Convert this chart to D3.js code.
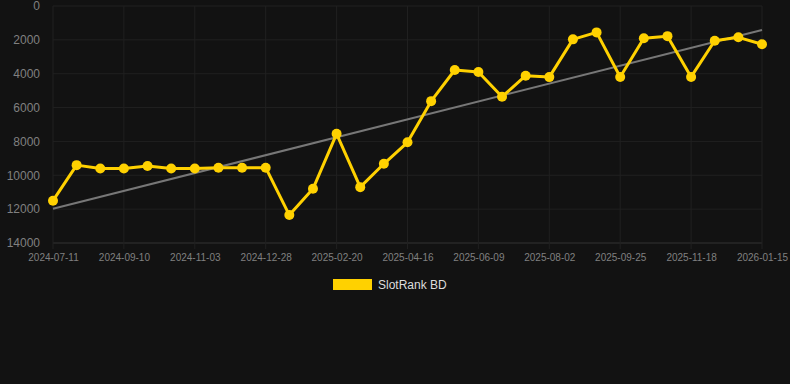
<!DOCTYPE html>
<html lang="en">
<head>
	<meta charset="UTF-8">
	<title>SlotRank BD</title>
	<script src="https://cdn.jsdelivr.net/npm/d3@7"></script>
	<style>
		body{
			margin: 0px;
			background: #121212;
		}
		svg{
			display: block;
			font-family: "Liberation Sans", Arial, sans-serif;
		}
	</style>
</head>
<body>
	<svg></svg>
	<script>
		// categories (dates), every 3rd one is labelled on the axis
		var dates = [
			"2024-07-11", "2024-07-31", "2024-08-21", "2024-09-10", "2024-09-28", "2024-10-16",
			"2024-11-03", "2024-11-21", "2024-12-10", "2024-12-28", "2025-01-16", "2025-02-02",
			"2025-02-20", "2025-03-10", "2025-03-29", "2025-04-16", "2025-05-04", "2025-05-22",
			"2025-06-09", "2025-06-27", "2025-07-15", "2025-08-02", "2025-08-20", "2025-09-07",
			"2025-09-25", "2025-10-13", "2025-10-31", "2025-11-18", "2025-12-07", "2025-12-27",
			"2026-01-15"
		];
		var ranks = [
			11500, 9400, 9600, 9600, 9450, 9600,
			9600, 9550, 9550, 9550, 12350, 10800,
			7550, 10700, 9320, 8050, 5620, 3780,
			3900, 5360, 4120, 4200, 1970, 1560,
			4190, 1910, 1780, 4190, 2050, 1850,
			2260
		];
		// trend line values at first and last date
		var trend = [11980, 1420];
		var yTicks = [0, 2000, 4000, 6000, 8000, 10000, 12000, 14000];
		var seriesName = "SlotRank BD";

		var w = 790, h = 384,
			m = {top: 6, right: 28, bottom: 141, left: 53},
			svg = d3.select("svg").attr("width", w).attr("height", h);

		svg.append("rect").attr("width", w).attr("height", h).attr("fill", "#121212");

		var x = d3.scalePoint().domain(dates).range([m.left, w - m.right]);
		var y = d3.scaleLinear().domain([0, 14000]).range([m.top, h - m.bottom]);
		var labelled = dates.filter((d, i) => i % 3 === 0);

		// grid
		var g = svg.append("g");
		g.selectAll(".hg").data(yTicks).enter().append("line")
			.attr("x1", m.left).attr("x2", w - m.right)
			.attr("y1", d => y(d)).attr("y2", d => y(d))
			.attr("stroke", d => d === 14000 ? "#333" : "#202020").attr("stroke-width", 1);
		g.selectAll(".vg").data(labelled).enter().append("line")
			.attr("x1", d => x(d)).attr("x2", d => x(d))
			.attr("y1", m.top).attr("y2", y(14000) + 6)
			.attr("stroke", "#202020").attr("stroke-width", 1);

		// axes
		var yAxis = svg.append("g").attr("transform", `translate(${m.left - 10},0)`)
			.call(d3.axisLeft(y).tickValues(yTicks).tickSize(0).tickFormat(d3.format("d")));
		yAxis.select(".domain").remove();
		yAxis.selectAll("text").attr("fill", "#808080").attr("font-size", 12).attr("dx", 0);

		var xAxis = svg.append("g").attr("transform", `translate(0,${y(14000) + 8})`)
			.call(d3.axisBottom(x).tickValues(labelled).tickSize(0));
		xAxis.select(".domain").remove();
		xAxis.selectAll("text").attr("fill", "#808080").attr("font-size", 10).attr("dy", "0.71em");

		// trend line
		svg.append("line")
			.attr("x1", x(dates[0])).attr("y1", y(trend[0]))
			.attr("x2", x(dates[dates.length - 1])).attr("y2", y(trend[1]))
			.attr("stroke", "#777").attr("stroke-width", 2);

		// series
		var color = "#ffd100";
		svg.append("path").datum(ranks)
			.attr("fill", "none").attr("stroke", color).attr("stroke-width", 3)
			.attr("stroke-linejoin", "round")
			.attr("d", d3.line().x((d, i) => x(dates[i])).y(d => y(d)));
		svg.selectAll(".pt").data(ranks).enter().append("circle")
			.attr("cx", (d, i) => x(dates[i])).attr("cy", d => y(d)).attr("r", 5)
			.attr("fill", color);

		// legend
		var lg = svg.append("g").attr("transform", "translate(333,279)");
		lg.append("rect").attr("width", 39).attr("height", 11).attr("fill", color);
		lg.append("text").attr("x", 45).attr("y", 10).text(seriesName)
			.attr("fill", "#dddddd").attr("font-size", 12);
	</script>
</body>
</html>
